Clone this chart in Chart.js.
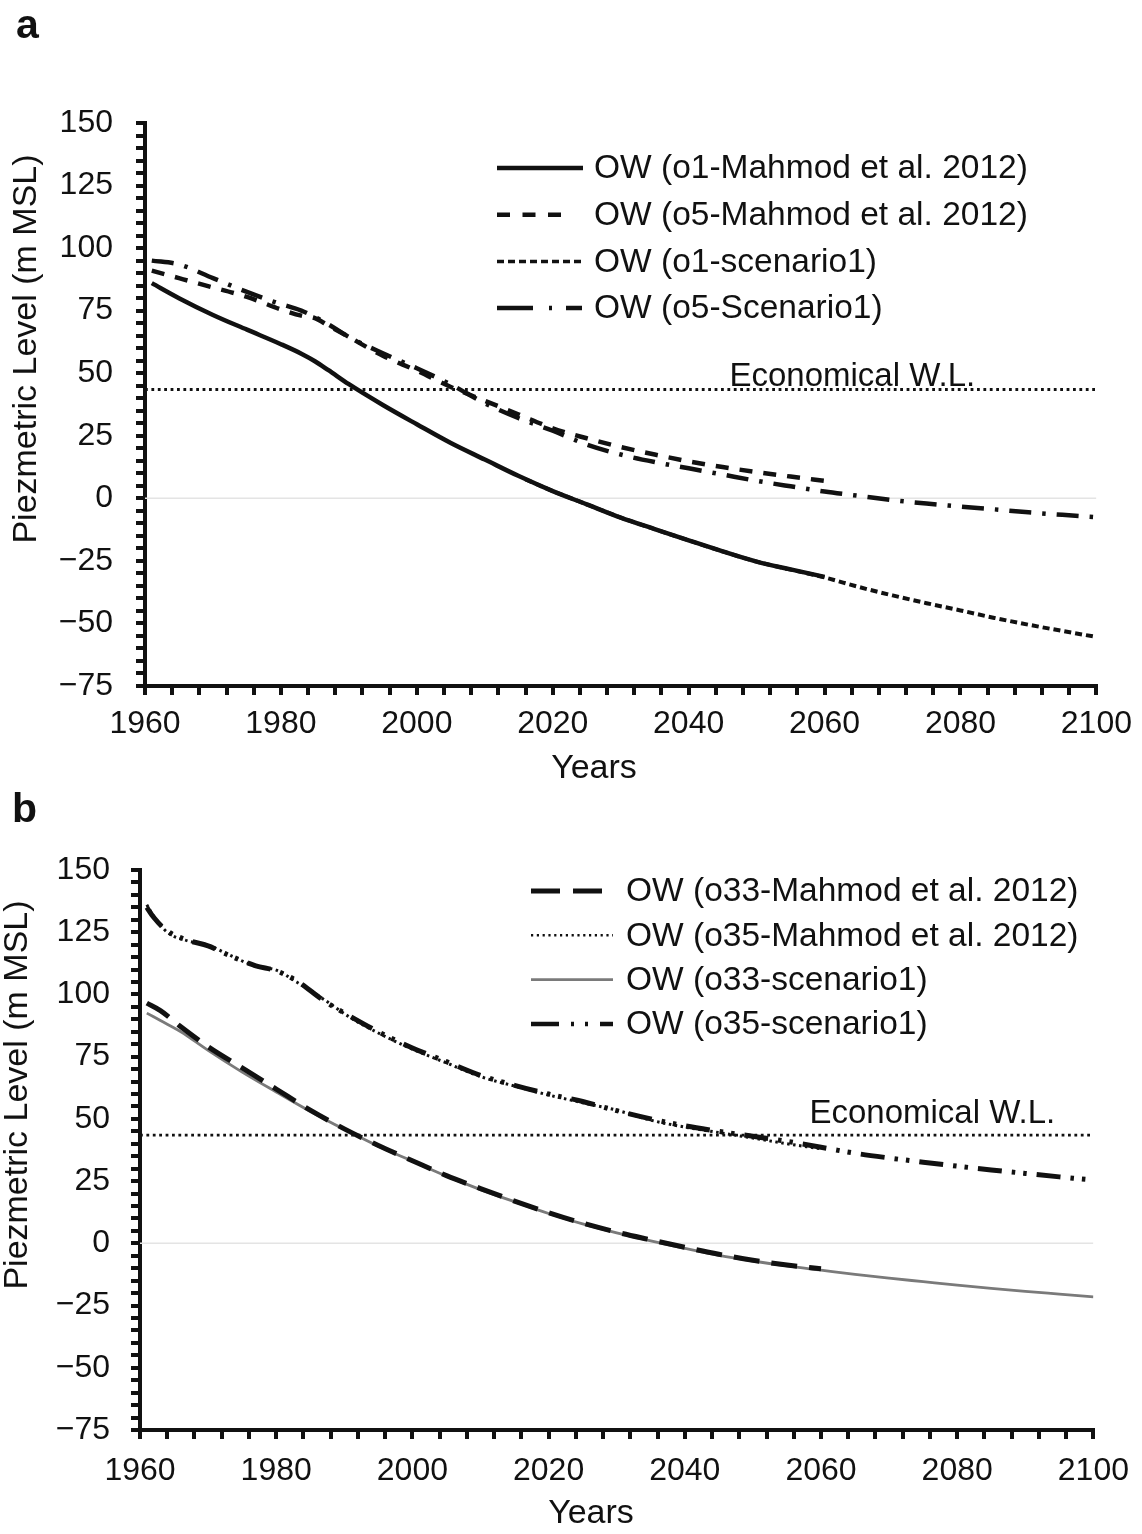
<!DOCTYPE html>
<html><head><meta charset="utf-8">
<script src="https://cdn.jsdelivr.net/npm/chart.js@4.4.1/dist/chart.umd.min.js"></script>
<style>
html,body{margin:0;padding:0;background:#fff;}
#wrap{position:relative;width:1142px;height:1534px;overflow:hidden;}
canvas{position:absolute;left:0;}
#ca{top:0;} #cb{top:790px;}
</style></head><body>
<div id="wrap"><canvas id="ca" width="1142" height="790"></canvas><canvas id="cb" width="1142" height="744"></canvas></div>
<script>
const FONT = '"Liberation Sans", Arial, Helvetica, sans-serif';

// ---- tick labels ----
const xMajorTicks = [1960, 1980, 2000, 2020, 2040, 2060, 2080, 2100];
const yMajorTicks = [150, 125, 100, 75, 50, 25, 0, -25, -50, -75];

// ---- reference lines ----
const econYears = [1960, 2100];
const econVals = [43.5, 43.5];
const zeroYears = [1960, 2100];
const zeroVals = [0, 0];

// ---- panel a ----
const yearsA_o1M = [1961,1965,1970,1975,1980,1983,1985,1987,1990,1995,2000,2005,2010,2015,2020,2025,2030,2035,2040,2045,2050,2055,2060];
const valsA_o1M  = [86,80,73.3,67.4,61.6,57.8,54.8,51.2,45.6,37.3,29.6,22.1,15.5,8.9,2.9,-2.4,-7.7,-12.3,-16.8,-21.2,-25.3,-28.4,-31.4];

const yearsA_o5M = [1961,1965,1969,1975,1980,1983,1985,1987,1990,1995,2000,2005,2010,2015,2020,2025,2030,2035,2040,2045,2050,2055,2060];
const valsA_o5M  = [91,88,85,80.5,75.5,73,72,69,64.5,57,51,44.5,39,33.5,28,24,20.5,17.5,14.8,12.5,10.5,8.7,7];

const yearsA_o1S = [2016,2020,2025,2030,2035,2040,2045,2050,2055,2060,2065,2070,2075,2080,2085,2090,2095,2100];
const valsA_o1S  = [7.6,2.9,-2.4,-7.7,-12.3,-16.8,-21.2,-25.3,-28.5,-31.6,-35.4,-38.8,-41.9,-44.8,-47.8,-50.5,-53,-55.4];

const yearsA_o5S = [1961,1965,1970,1975,1979,1983,1985,1987,1990,1995,2000,2005,2010,2015,2020,2025,2030,2035,2040,2045,2050,2055,2060,2065,2070,2075,2080,2085,2090,2095,2100];
const valsA_o5S  = [95,93.5,88,82.5,78.5,75,72.5,69.5,64.5,58,52,45.5,38,32,27,21.5,17.5,14.5,12,9.5,7,4.8,2.7,1,-0.7,-2.1,-3.3,-4.4,-5.6,-6.6,-7.5];

// ---- panel b ----
const yearsB_o33M = [1961,1963,1966,1970,1975,1980,1985,1990,1995,2000,2005,2010,2015,2020,2025,2030,2035,2040,2045,2050,2055,2060];
const valsB_o33M  = [96.5,93.5,87,79,70.5,62,53.5,46,39.3,33.2,27.2,22,17,12.3,8.1,4.5,1.4,-1.6,-4.4,-6.8,-8.7,-10.2];

const yearsB_o35M = [1961,1962,1964,1967,1970,1973,1977,1980,1983,1987,1991,1995,2000,2005,2010,2015,2020,2025,2030,2035,2040,2045,2050,2055,2060];
const valsB_o35M  = [136,131.5,125,121.5,119.8,116,111.3,109.8,105,98,90.5,84.5,78,72.5,67,63.2,59.6,56.5,53.5,49.5,46.7,44.5,42.3,40,38];

const yearsB_o33S = [1961,1963,1966,1970,1975,1980,1985,1990,1995,2000,2005,2010,2015,2020,2025,2030,2035,2040,2045,2050,2055,2060,2065,2070,2075,2080,2085,2090,2095,2100];
const valsB_o33S  = [92.5,89.5,85,77.5,68.8,60.8,53,45.8,39,33,27,21.6,16.7,12,7.8,4.2,1,-2,-4.8,-7.1,-9.1,-10.8,-12.5,-14,-15.4,-16.8,-18.1,-19.3,-20.4,-21.5];

const yearsB_o35S = [1961,1962,1964,1967,1970,1973,1977,1980,1983,1987,1991,1995,2000,2005,2010,2015,2020,2025,2030,2035,2040,2045,2050,2055,2060,2065,2070,2075,2080,2085,2090,2095,2100];
const valsB_o35S  = [135,131,125.5,121.8,119.5,115.8,111.5,109.5,105.5,97.5,91,85,78.5,73,67.5,63.5,60,57,53.3,50,47.2,45,43,41,38.6,36.2,34.3,32.6,31,29.5,28.1,26.7,25.4];

function pts(xs, ys){ return xs.map((x,i)=>({x:x, y:ys[i]})); }

function fmtY(v){ return v < 0 ? '\u2212' + Math.abs(v) : String(v); }

const decor = {
  id: 'decor',
  afterDraw(chart, args, o){
    const ctx = chart.ctx;
    const xs = chart.scales.x, ys = chart.scales.y;
    ctx.save();
    ctx.fillStyle = '#111';
    // panel letter
    ctx.font = 'bold 41px ' + FONT;
    ctx.textAlign = 'left'; ctx.textBaseline = 'alphabetic';
    ctx.fillText(o.letter, o.letterX, o.letterY);
    // x title
    ctx.font = '34px ' + FONT;
    ctx.textAlign = 'center'; ctx.textBaseline = 'middle';
    ctx.fillText(o.xTitle, o.xTitleX, o.xTitleY);
    // y title
    ctx.save();
    ctx.translate(o.yTitleX, o.yTitleY); ctx.rotate(-Math.PI/2);
    ctx.fillText(o.yTitle, 0, 0);
    ctx.restore();
    // economical label
    ctx.font = '33px ' + FONT;
    ctx.textAlign = 'left'; ctx.textBaseline = 'alphabetic';
    ctx.fillText(o.econText, xs.getPixelForValue(o.econX), ys.getPixelForValue(econVals[0]) - o.econOff);
    // legend
    const L = o.legend;
    let row = 0;
    chart.data.datasets.forEach(ds => {
      if (!ds.showInLegend) return;
      const y = L.y0 + row * L.dy;
      ctx.save();
      ctx.strokeStyle = ds.borderColor;
      ctx.lineWidth = ds.legendWidth || ds.borderWidth;
      ctx.setLineDash(ds.legendDash || ds.borderDash || []);
      ctx.beginPath();
      ctx.moveTo(L.lineX0, y);
      ctx.lineTo(L.lineX0 + (ds.legendLen || L.lineLen), y);
      ctx.stroke();
      ctx.restore();
      ctx.font = '33.5px ' + FONT;
      ctx.textAlign = 'left'; ctx.textBaseline = 'middle';
      ctx.fillText(ds.label, L.textX, y + 1);
      row++;
    });
    ctx.restore();
  }
};

function makeChart(id, datasets, cfg){
  const tickFont = {family: FONT, size: 32};
  return new Chart(document.getElementById(id), {
    type: 'line',
    data: {datasets: datasets},
    options: {
      responsive: false, animation: false,
      layout: {padding: {top: cfg.padTop, right: cfg.padRight, left: 0, bottom: 0}},
      elements: {point: {radius: 0, hoverRadius: 0}, line: {cubicInterpolationMode: 'monotone', borderCapStyle: 'butt', fill: false}},
      plugins: {legend: {display: false}, tooltip: {enabled: false}, decor: cfg.decor},
      scales: {
        x: {
          type: 'linear', min: 1960, max: 2100,
          afterFit: s => { s.height = 104; },
          ticks: {stepSize: 4, autoSkip: false, maxRotation: 0, minRotation: 0, color: '#111', font: tickFont, padding: cfg.xPad,
                  callback: v => xMajorTicks.includes(v) ? String(v) : ''},
          grid: {drawOnChartArea: false, drawTicks: true, tickLength: 9, color: '#111', lineWidth: 4},
          border: {display: true, color: '#111', width: 4}
        },
        y: {
          type: 'linear', min: -75, max: 150,
          afterFit: s => { s.width = cfg.yW; },
          ticks: {stepSize: 5, autoSkip: false, color: '#111', font: tickFont, padding: cfg.yPad,
                  callback: v => yMajorTicks.includes(v) ? fmtY(v) : ''},
          grid: {drawOnChartArea: false, drawTicks: true, tickLength: 9, color: '#111', lineWidth: 4},
          border: {display: true, color: '#111', width: 4}
        }
      }
    },
    plugins: [decor]
  });
}

const zeroDs = () => ({label: 'zero', data: pts(zeroYears, zeroVals), borderColor: '#e4e4e4', borderWidth: 1.5, order: 10});
const econDs = () => ({label: 'Economical W.L.', data: pts(econYears, econVals), borderColor: '#111', borderWidth: 2.8, borderDash: [2.8, 3.6], order: 9});

makeChart('ca', [
  {label: 'OW (o1-Mahmod et al. 2012)', data: pts(yearsA_o1M, valsA_o1M), borderColor: '#111', borderWidth: 4.5, showInLegend: true, legendLen: 86},
  {label: 'OW (o5-Mahmod et al. 2012)', data: pts(yearsA_o5M, valsA_o5M), borderColor: '#111', borderWidth: 4.5, borderDash: [13, 11], showInLegend: true, legendDash: [13, 12.5], legendLen: 67},
  {label: 'OW (o1-scenario1)', data: pts(yearsA_o1S, valsA_o1S), borderColor: '#111', borderWidth: 4, borderDash: [7, 4], showInLegend: true, legendWidth: 3.5, legendLen: 86},
  {label: 'OW (o5-Scenario1)', data: pts(yearsA_o5S, valsA_o5S), borderColor: '#111', borderWidth: 4.5, borderDash: [22, 11, 3.5, 11], showInLegend: true, legendDash: [36, 16, 3, 14], legendLen: 85},
  econDs(), zeroDs()
], {
  padTop: 123, padRight: 41, yW: 145, yPad: 23, xPad: 10,
  decor: {letter: 'a', letterX: 16, letterY: 38, xTitle: 'Years', xTitleX: 594, xTitleY: 769,
          yTitle: 'Piezmetric Level (m MSL)', yTitleX: 27, yTitleY: 349,
          econText: 'Economical W.L.', econX: 2046, econOff: 3,
          legend: {lineX0: 497, lineLen: 86, textX: 594, y0: 168, dy: 46.7}}
});

makeChart('cb', [
  {label: 'OW (o33-Mahmod et al. 2012)', data: pts(yearsB_o33M, valsB_o33M), borderColor: '#111', borderWidth: 5, borderDash: [26, 12], showInLegend: true, legendDash: [29, 13], legendLen: 71},
  {label: 'OW (o35-Mahmod et al. 2012)', data: pts(yearsB_o35M, valsB_o35M), borderColor: '#111', borderWidth: 3, borderDash: [2.5, 3.5], showInLegend: true, legendWidth: 2.6, legendDash: [2.2, 3.6], legendLen: 82},
  {label: 'OW (o33-scenario1)', data: pts(yearsB_o33S, valsB_o33S), borderColor: '#7a7a7a', borderWidth: 2.8, showInLegend: true, legendLen: 82},
  {label: 'OW (o35-scenario1)', data: pts(yearsB_o35S, valsB_o35S), borderColor: '#111', borderWidth: 5, borderDash: [24, 10, 3.5, 8, 3.5, 10], showInLegend: true, legendWidth: 4.5, legendDash: [28, 12, 3, 11, 3, 12], legendLen: 82},
  econDs(), zeroDs()
], {
  padTop: 80, padRight: 45, yW: 140, yPad: 21, xPad: 13,
  decor: {letter: 'b', letterX: 12, letterY: 32, xTitle: 'Years', xTitleX: 591, xTitleY: 724,
          yTitle: 'Piezmetric Level (m MSL)', yTitleX: 18, yTitleY: 305,
          econText: 'Economical W.L.', econX: 2058.3, econOff: 12,
          legend: {lineX0: 531, lineLen: 82, textX: 626, y0: 101, dy: 44.3}}
});
</script>
</body></html>
